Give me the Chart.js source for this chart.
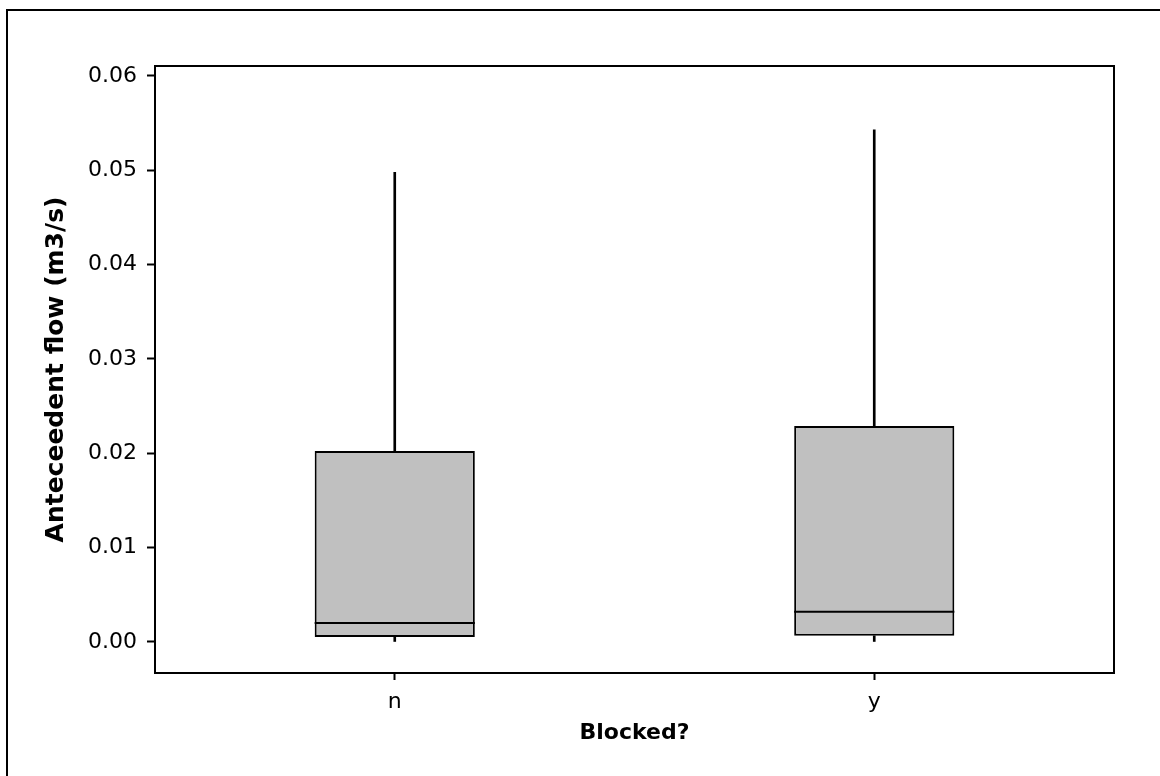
<!DOCTYPE html>
<html>
<head>
<meta charset="utf-8">
<script src="https://cdn.jsdelivr.net/npm/chart.js@4"></script>
<style>
  html, body { margin: 0; padding: 0; background: #fff; overflow: hidden; }
  #frame { position: absolute; left: 6px; top: 9px; width: 1300px; height: 900px; border: 2px solid #000; }
  #wrap { position: absolute; left: 0; top: 0; width: 1160px; height: 776px; }
</style>
</head>
<body>
<div id="frame"></div>
<div id="wrap"><canvas id="chart"></canvas></div>
<script>
// box plot values
const groups = ['n', 'y'];
const minVals = [0.0000, 0.0000];
const q1Vals = [0.00053, 0.00065];
const medianVals = [0.0020, 0.0032];
const q3Vals = [0.02025, 0.0229];
const maxVals = [0.0498, 0.0543];
const yTicks = [0.00, 0.01, 0.02, 0.03, 0.04, 0.05, 0.06];

const font = 'DejaVu Sans';

// median lines and plot frame, drawn with the chart's own scales
const boxExtras = {
    id: 'boxExtras',
    afterDatasetsDraw(chart) {
        const ctx = chart.ctx;
        const y = chart.scales.y;
        const boxes = chart.getDatasetMeta(0).data;
        ctx.save();
        ctx.strokeStyle = '#000';
        ctx.lineWidth = 2;
        boxes.forEach((el, i) => {
            const py = y.getPixelForValue(medianVals[i]);
            ctx.beginPath();
            ctx.moveTo(el.x - el.width / 2, py);
            ctx.lineTo(el.x + el.width / 2, py);
            ctx.stroke();
        });
        const a = chart.chartArea;
        ctx.strokeRect(a.left, a.top, a.right - a.left, a.bottom - a.top);
        ctx.restore();
    }
};

new Chart(document.getElementById('chart'), {
    type: 'bar',
    data: {
        labels: groups,
        datasets: [
            {
                data: groups.map((g, i) => [q1Vals[i], q3Vals[i]]),
                backgroundColor: '#c0c0c0',
                borderColor: '#000',
                borderWidth: 2,
                borderSkipped: false,
                grouped: false,
                categoryPercentage: 1,
                barPercentage: 0.334
            },
            {
                data: groups.map((g, i) => [q3Vals[i], maxVals[i]]),
                backgroundColor: '#000',
                borderWidth: 0,
                grouped: false,
                barThickness: 2
            },
            {
                data: groups.map((g, i) => [minVals[i], q1Vals[i]]),
                backgroundColor: '#000',
                borderWidth: 0,
                grouped: false,
                barThickness: 2
            }
        ]
    },
    options: {
        responsive: true,
        maintainAspectRatio: false,
        animation: false,
        layout: { padding: { top: 66, right: 46, left: 0, bottom: 0 } },
        plugins: {
            legend: { display: false },
            tooltip: { enabled: false }
        },
        scales: {
            x: {
                offset: true,
                grid: { display: true, offset: false, drawOnChartArea: false, tickLength: 7, tickColor: '#000', tickWidth: 2 },
                border: { display: true, color: '#000', width: 2 },
                ticks: { color: '#000', font: { family: font, size: 22 }, padding: 9 },
                title: {
                    display: true,
                    text: 'Blocked?',
                    color: '#000',
                    font: { family: font, size: 22, weight: 'bold' },
                    padding: { top: 0, bottom: 30 }
                },
                afterFit(scale) { scale.height = 103; }
            },
            y: {
                min: -0.00329,
                max: 0.06106,
                afterBuildTicks(scale) { scale.ticks = yTicks.map(v => ({ value: v })); },
                grid: { display: true, drawOnChartArea: false, tickLength: 8, tickColor: '#000', tickWidth: 2 },
                border: { display: true, color: '#000', width: 2 },
                ticks: {
                    color: '#000',
                    font: { family: font, size: 22 },
                    padding: 10,
                    callback: v => v.toFixed(2)
                },
                title: {
                    display: true,
                    text: 'Anteceedent flow (m3/s)',
                    color: '#000',
                    font: { family: font, size: 25, weight: 'bold' },
                    padding: { top: 41, bottom: 0 }
                },
                afterFit(scale) { scale.width = 155; }
            }
        }
    },
    plugins: [boxExtras]
});
</script>
</body>
</html>
